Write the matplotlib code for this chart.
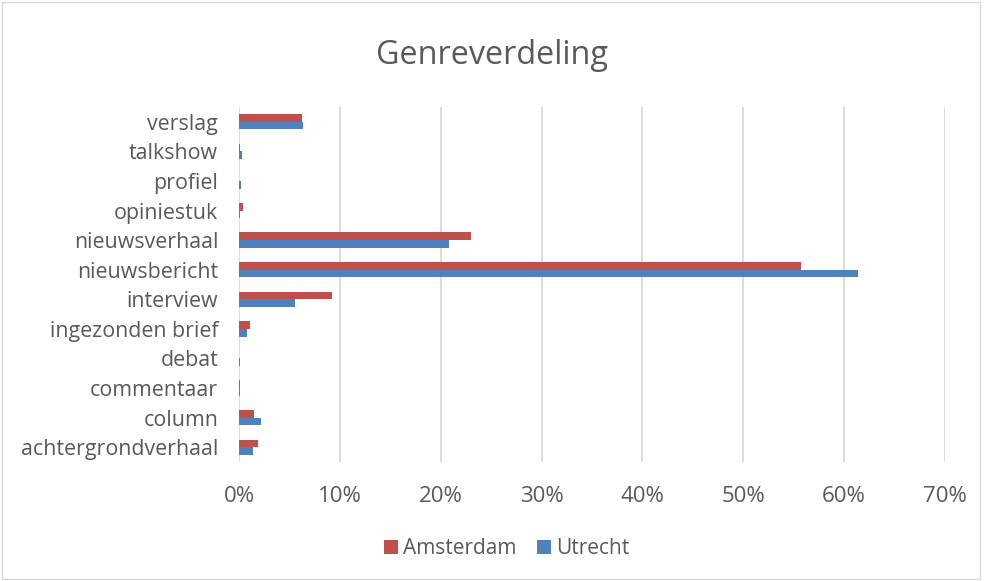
import numpy as np
import matplotlib.pyplot as plt
from matplotlib.patches import Rectangle
from matplotlib.ticker import PercentFormatter

plt.rcParams['font.family'] = ['Open Sans', 'DejaVu Sans']

# Genres, bottom to top as drawn on the y axis
genres = ['achtergrondverhaal', 'column', 'commentaar', 'debat', 'ingezonden brief',
          'interview', 'nieuwsbericht', 'nieuwsverhaal', 'opiniestuk', 'profiel',
          'talkshow', 'verslag']
amsterdam = [1.9, 1.5, 0.05, 0.0, 1.1, 9.2, 55.7, 23.0, 0.35, 0.0, 0.1, 6.2]
utrecht = [1.4, 2.15, 0.05, 0.05, 0.8, 5.6, 61.4, 20.8, 0.05, 0.15, 0.3, 6.3]
xticks = [0, 10, 20, 30, 40, 50, 60, 70]

red = '#c0504d'
blue = '#4f81bd'
textgrey = '#595959'

fig = plt.figure(figsize=(9.84, 5.81), dpi=100)
ax = fig.add_axes([239 / 984, 1 - 462 / 581, (945 - 239) / 984, (462 - 107) / 581])

y = np.arange(len(genres))
h = 0.26
ax.barh(y + h / 2, amsterdam, height=h, color=red, label='Amsterdam', zorder=3)
ax.barh(y - h / 2, utrecht, height=h, color=blue, label='Utrecht', zorder=3)

ax.set_xlim(0, 70)
ax.set_ylim(-0.5, len(genres) - 0.5)
ax.set_xticks(xticks)
ax.xaxis.set_major_formatter(PercentFormatter(decimals=0))
ax.set_yticks(y)
ax.set_yticklabels(genres)
ax.tick_params(axis='both', length=0, colors=textgrey)
ax.tick_params(axis='x', pad=17, labelsize=16)
ax.tick_params(axis='y', pad=15, labelsize=15.4)
ax.grid(axis='x', color='#d9d9d9', linewidth=1.3, zorder=0)
for s in ax.spines.values():
    s.set_visible(False)

fig.text(0.5, 1 - 56 / 581, 'Genreverdeling', ha='center', va='center',
         fontsize=23.3, color=textgrey)

fig.legend(loc='center', bbox_to_anchor=(0.515, 1 - 549 / 581), ncol=2, frameon=False,
           fontsize=15, labelcolor=textgrey, handlelength=0.65, handleheight=0.65,
           handletextpad=0.25, columnspacing=1.0)

# thin frame around the whole chart area
fig.patches.append(Rectangle((0.002, 0.003), 0.994, 0.994, transform=fig.transFigure,
                             fill=False, edgecolor='#d9d9d9', linewidth=1))

fig.savefig('out.png', dpi=100)
